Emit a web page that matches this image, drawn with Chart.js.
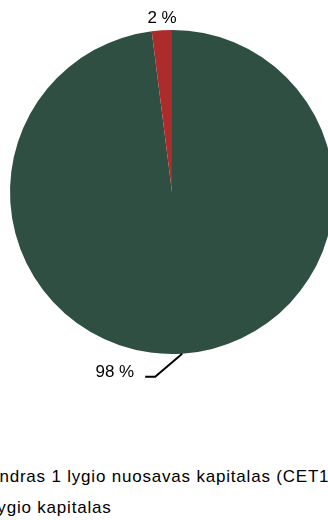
<!DOCTYPE html>
<html>
<head>
<meta charset="utf-8">
<script src="https://cdn.jsdelivr.net/npm/chart.js@4"></script>
<style>
  html,body{margin:0;padding:0;background:#fff;overflow:hidden;width:328px;height:520px;}
  #wrap{position:absolute;left:-40px;top:0;width:420px;height:400px;}
  #legend{position:absolute;left:-40px;top:467px;font-family:"Liberation Sans",Arial,sans-serif;font-size:17px;letter-spacing:0.8px;color:#000;white-space:nowrap;}
  #legend .item{height:31px;line-height:20px;}
  #legend .box{display:inline-block;width:10px;height:10px;margin-right:7px;vertical-align:0;}
</style>
</head>
<body>
<div id="wrap"><canvas id="pie" width="420" height="400"></canvas></div>
<div id="legend"></div>
<script>
const labels = ['Bendras 1 lygio nuosavas kapitalas (CET1)', '2 lygio kapitalas'];
const values = [98, 2];
const colors = ['#2e4f42', '#ae2b2b'];

// legend under the pie, one item per line
function renderLegend(){
  const el = document.getElementById('legend');
  labels.forEach((l, i)=>{
    const row = document.createElement('div');
    row.className = 'item';
    row.innerHTML = `<span class="box" style="background:${colors[i]}"></span>${l}`;
    el.appendChild(row);
  });
}

// percent labels; the big slice gets a leader line like the original
const pctLabels = {
  id: 'pctLabels',
  afterDatasetsDraw(chart){
    const ctx = chart.ctx;
    const arcs = chart.getDatasetMeta(0).data;
    ctx.save();
    ctx.font = '17px "Liberation Sans", Arial, sans-serif';
    ctx.fillStyle = '#000';
    ctx.strokeStyle = '#000';
    ctx.lineWidth = 2;
    arcs.forEach((a, i)=>{
      const mid = (a.startAngle + a.endAngle) / 2;
      const r = a.outerRadius;
      const txt = values[i] + ' %';
      if(i === 0){
        const sx = a.x + Math.cos(mid) * r, sy = a.y + Math.sin(mid) * r;
        const ex = sx - 27, ey = sy + 23;
        ctx.beginPath();
        ctx.moveTo(sx, sy); ctx.lineTo(ex, ey); ctx.lineTo(ex - 10, ey);
        ctx.stroke();
        ctx.textAlign = 'right'; ctx.textBaseline = 'middle';
        ctx.fillText(txt, ex - 21, ey - 4);
      } else {
        const lx = a.x + Math.cos(mid) * (r + 12), ly = a.y + Math.sin(mid) * (r + 12);
        ctx.textAlign = 'center'; ctx.textBaseline = 'middle';
        ctx.fillText(txt, lx + 1, ly);
      }
    });
    ctx.restore();
  }
};

function main(){
  renderLegend();
  new Chart(document.getElementById('pie').getContext('2d'), {
    type: 'pie',
    data: { labels, datasets: [{ data: values, backgroundColor: colors, borderWidth: 0 }] },
    options: {
      responsive: false,
      animation: false,
      layout: { padding: { top: 30, bottom: 46, left: 50, right: 46 } },
      plugins: { legend: { display: false }, tooltip: { enabled: false } }
    },
    plugins: [pctLabels]
  });
}
document.addEventListener('DOMContentLoaded', main);
</script>
</body>
</html>
